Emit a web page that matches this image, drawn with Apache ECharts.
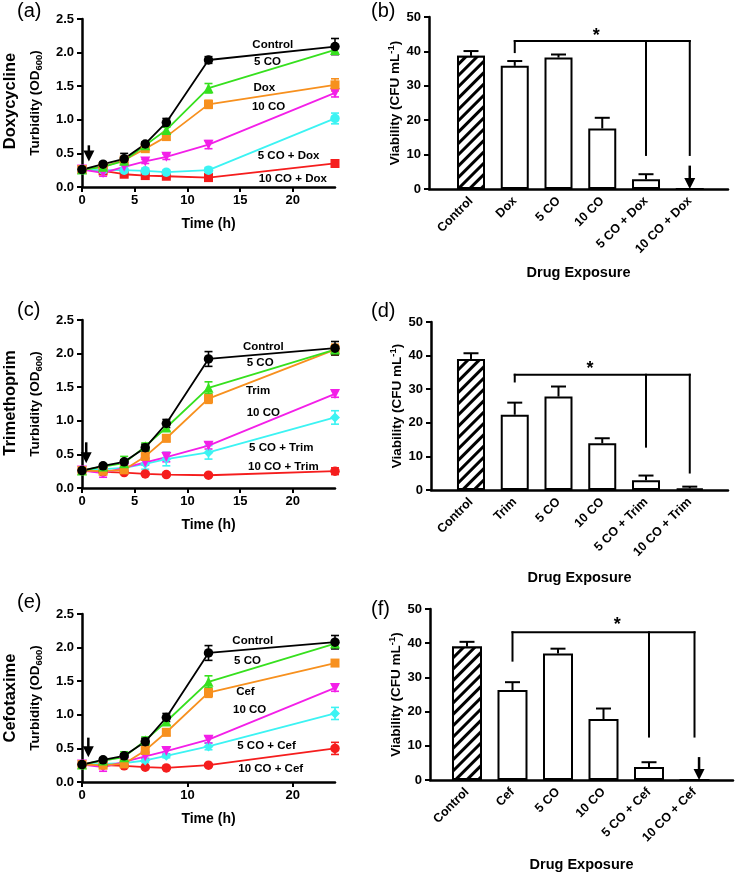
<!DOCTYPE html>
<html>
<head>
<meta charset="utf-8">
<script src="https://cdn.jsdelivr.net/npm/echarts@6/dist/echarts.min.js"></script>
<style>
html, body { margin: 0; padding: 0; background: #fff; }
#chart { width: 735px; height: 873px; }
</style>
</head>
<body>
<div id="chart"></div>
<script>
const FONT = '"Liberation Sans", Arial, Helvetica, sans-serif';

// sampling times (h) for the turbidity curves
const times = [0, 2, 4, 6, 8, 12, 24];
const lineColors = ['#000000', '#36e01e', '#f7901e', '#f31fe8', '#3cf3f3', '#f51d1d'];

// (a) Doxycycline turbidity
const aNames = ['Control', '5 CO', 'Dox', '10 CO', '5 CO + Dox', '10 CO + Dox'];
const aControl = [0.26, 0.34, 0.42, 0.64, 0.96, 1.89, 2.09];
const a5CO = [0.26, 0.30, 0.39, 0.62, 0.85, 1.47, 2.04];
const aDox = [0.26, 0.30, 0.40, 0.57, 0.75, 1.23, 1.52];
const a10CO = [0.26, 0.21, 0.30, 0.38, 0.45, 0.63, 1.40];
const a5CODox = [0.26, 0.25, 0.25, 0.24, 0.22, 0.25, 1.02];
const a10CODox = [0.26, 0.24, 0.19, 0.17, 0.16, 0.14, 0.35];
const aControlErr = [0.02, 0.03, 0.08, 0.03, 0.06, 0.05, 0.12];
const a5COErr = [0.02, 0.03, 0.05, 0.03, 0.04, 0.07, 0.05];
const aDoxErr = [0.02, 0.03, 0.04, 0.03, 0.05, 0.06, 0.09];
const a10COErr = [0.02, 0.05, 0.03, 0.03, 0.04, 0.06, 0.06];
const a5CODoxErr = [0.02, 0.03, 0.03, 0.04, 0.03, 0.04, 0.08];
const a10CODoxErr = [0.02, 0.03, 0.03, 0.02, 0.02, 0.02, 0.03];
const aLabelAt = [[18.1, 2.12], [17.6, 1.86], [17.3, 1.48], [17.7, 1.19], [19.6, 0.46], [20.0, 0.12]];

// (c) Trimethoprim turbidity
const cNames = ['Control', '5 CO', 'Trim', '10 CO', '5 CO + Trim', '10 CO + Trim'];
const cControl = [0.26, 0.33, 0.39, 0.60, 0.96, 1.92, 2.08];
const c5CO = [0.26, 0.32, 0.37, 0.62, 0.90, 1.49, 2.06];
const cTrim = [0.26, 0.25, 0.27, 0.47, 0.74, 1.33, 2.06];
const c10CO = [0.26, 0.22, 0.30, 0.38, 0.46, 0.63, 1.40];
const c5COTrim = [0.26, 0.28, 0.30, 0.36, 0.43, 0.53, 1.05];
const c10COTrim = [0.26, 0.24, 0.23, 0.21, 0.20, 0.19, 0.25];
const cControlErr = [0.02, 0.03, 0.03, 0.05, 0.06, 0.11, 0.10];
const c5COErr = [0.02, 0.04, 0.10, 0.05, 0.05, 0.09, 0.05];
const cTrimErr = [0.02, 0.03, 0.04, 0.05, 0.05, 0.07, 0.08];
const c10COErr = [0.02, 0.06, 0.03, 0.04, 0.07, 0.05, 0.05];
const c5COTrimErr = [0.02, 0.03, 0.04, 0.08, 0.10, 0.10, 0.10];
const c10COTrimErr = [0.02, 0.02, 0.02, 0.02, 0.02, 0.02, 0.05];
const cLabelAt = [[17.2, 2.10], [16.9, 1.86], [16.7, 1.44], [17.2, 1.12], [18.9, 0.60], [19.1, 0.31]];

// (e) Cefotaxime turbidity
const eNames = ['Control', '5 CO', 'Cef', '10 CO', '5 CO + Cef', '10 CO + Cef'];
const eControl = [0.26, 0.33, 0.39, 0.60, 0.96, 1.92, 2.08];
const e5CO = [0.26, 0.32, 0.37, 0.62, 0.90, 1.49, 2.06];
const eCef = [0.26, 0.25, 0.27, 0.47, 0.74, 1.33, 1.77];
const e10CO = [0.26, 0.22, 0.30, 0.38, 0.46, 0.63, 1.40];
const e5COCef = [0.26, 0.27, 0.28, 0.32, 0.39, 0.53, 1.02];
const e10COCef = [0.26, 0.25, 0.24, 0.22, 0.21, 0.25, 0.50];
const eControlErr = [0.02, 0.03, 0.03, 0.05, 0.06, 0.11, 0.10];
const e5COErr = [0.02, 0.04, 0.08, 0.05, 0.05, 0.09, 0.05];
const eCefErr = [0.02, 0.03, 0.04, 0.05, 0.05, 0.07, 0.04];
const e10COErr = [0.02, 0.06, 0.03, 0.03, 0.05, 0.05, 0.05];
const e5COCefErr = [0.02, 0.02, 0.02, 0.03, 0.03, 0.05, 0.09];
const e10COCefErr = [0.02, 0.02, 0.02, 0.02, 0.02, 0.02, 0.09];
const eLabelAt = [[16.2, 2.10], [15.7, 1.80], [15.5, 1.34], [15.9, 1.07], [17.5, 0.54], [17.9, 0.19]];

// (b) Doxycycline viability
const bCats = ['Control', 'Dox', '5 CO', '10 CO', '5 CO + Dox', '10 CO + Dox'];
const bMeans = [38.7, 35.8, 38.2, 17.6, 2.8, 0];
const bErr = [1.4, 1.4, 0.9, 3.1, 1.5, 0];
const bBracket = [[1, 39.8, 1, 43], [1, 43, 5, 43], [4, 43, 4, 9.9], [5, 43, 5, 9.9]];
const bArrow = [[5, 6.8, 0]];
const bStar = [[2.86, 44.6]];

// (d) Trimethoprim viability
const dCats = ['Control', 'Trim', '5 CO', '10 CO', '5 CO + Trim', '10 CO + Trim'];
const dMeans = [39.0, 22.4, 27.8, 13.9, 2.9, 0.5];
const dErr = [1.7, 3.6, 3.0, 1.5, 1.4, 0.5];
const dBracket = [[1, 32.3, 1, 34.3], [1, 34.3, 5, 34.3], [4, 34.3, 4, 12.9], [5, 34.3, 5, 5.2]];
const dArrow = [];
const dStar = [[2.72, 35.9]];

// (f) Cefotaxime viability
const fCats = ['Control', 'Cef', '5 CO', '10 CO', '5 CO + Cef', '10 CO + Cef'];
const fMeans = [39.0, 26.3, 37.0, 17.8, 3.8, 0];
const fErr = [1.4, 2.3, 1.4, 3.1, 1.4, 0];
const fBracket = [[1, 34.9, 1, 43.2], [1, 43.2, 5, 43.2], [4, 43.2, 4, 12.7], [5, 43.2, 5, 12.7]];
const fArrow = [[5.1, 6.7, 0]];
const fStar = [[3.3, 45.2]];

const chart = echarts.init(document.getElementById('chart'));

const boldText = { color: '#000', fontWeight: 'bold', fontFamily: FONT };

function textSeries(g, items, labels, size) {
  return {
    type: 'custom', xAxisIndex: g, yAxisIndex: g, silent: true, z: 6,
    data: items,
    renderItem: function (params, api) {
      const p = api.coord([api.value(0), api.value(1)]);
      return {
        type: 'text', x: p[0], y: p[1],
        style: {
          text: labels[params.dataIndex], fill: '#000',
          font: 'bold ' + size + 'px ' + FONT,
          textAlign: 'center', textVerticalAlign: 'middle'
        }
      };
    }
  };
}

function segSeries(g, segs) {
  return {
    type: 'custom', xAxisIndex: g, yAxisIndex: g, silent: true, z: 5,
    data: segs,
    renderItem: function (params, api) {
      const a = api.coord([api.value(0), api.value(1)]);
      const b = api.coord([api.value(2), api.value(3)]);
      return {
        type: 'line',
        shape: { x1: a[0], y1: a[1], x2: b[0], y2: b[1] },
        style: { stroke: '#000', lineWidth: 2, lineCap: 'square' }
      };
    }
  };
}

function arrowSeries(g, arrows) {
  return {
    type: 'custom', xAxisIndex: g, yAxisIndex: g, silent: true, z: 6,
    data: arrows,
    renderItem: function (params, api) {
      const top = api.coord([api.value(0), api.value(1)]);
      const tip = api.coord([api.value(0), api.value(2)]);
      const head = 11;
      return {
        type: 'group', children: [
          { type: 'line', shape: { x1: top[0], y1: top[1], x2: tip[0], y2: tip[1] - head + 1 },
            style: { stroke: '#000', lineWidth: 2.5 } },
          { type: 'polygon', shape: { points: [[tip[0], tip[1]], [tip[0] - 5.5, tip[1] - head], [tip[0] + 5.5, tip[1] - head]] },
            style: { fill: '#000' } }
        ]
      };
    }
  };
}

function lineSeries(g, means, errs, symbols) {
  const out = [];
  for (let i = means.length - 1; i >= 0; i--) {
    const col = lineColors[i];
    const sym = symbols[i];
    out.push({
      type: 'custom', xAxisIndex: g, yAxisIndex: g, silent: true, z: 2,
      data: times.map((t, k) => [t, means[i][k], errs[i][k]]),
      renderItem: function (params, api) {
        const x = api.value(0), y = api.value(1), e = api.value(2);
        const lo = api.coord([x, y - e]), hi = api.coord([x, y + e]);
        const w = 4;
        const st = { stroke: col, lineWidth: 1.6 };
        return {
          type: 'group', children: [
            { type: 'line', shape: { x1: lo[0], y1: lo[1], x2: hi[0], y2: hi[1] }, style: st },
            { type: 'line', shape: { x1: lo[0] - w, y1: lo[1], x2: lo[0] + w, y2: lo[1] }, style: st },
            { type: 'line', shape: { x1: hi[0] - w, y1: hi[1], x2: hi[0] + w, y2: hi[1] }, style: st }
          ]
        };
      }
    });
    out.push({
      type: 'line', xAxisIndex: g, yAxisIndex: g, z: 3,
      data: times.map((t, k) => [t, means[i][k]]),
      symbol: sym === 'down' ? 'triangle' : sym,
      symbolRotate: sym === 'down' ? 180 : 0,
      symbolSize: sym === 'rect' ? 9 : (sym === 'circle' ? 9.5 : 10),
      showAllSymbol: true,
      lineStyle: { color: col, width: 1.8 },
      itemStyle: { color: col, opacity: 1 }
    });
  }
  return out;
}

const hatch = {
  symbol: 'rect', symbolSize: 1, color: '#000', backgroundColor: '#fff',
  dashArrayX: [1, 0], dashArrayY: [3, 5], rotation: -Math.PI / 4
};

function barSeries(g, means, errs, width) {
  return [{
    type: 'bar', xAxisIndex: g, yAxisIndex: g, barWidth: width, z: 3,
    data: means.map((v, i) => i === 0 ? { value: [i, v], itemStyle: { decal: hatch } } : [i, v]),
    itemStyle: { color: '#fff', borderColor: '#000', borderWidth: 2 }
  }, {
    type: 'custom', xAxisIndex: g, yAxisIndex: g, silent: true, z: 4,
    data: means.map((v, i) => [i, v, errs[i]]),
    renderItem: function (params, api) {
      const e = api.value(2);
      if (!e) return null;
      const base = api.coord([api.value(0), api.value(1)]);
      const hi = api.coord([api.value(0), api.value(1) + e]);
      const st = { stroke: '#000', lineWidth: 2 };
      return {
        type: 'group', children: [
          { type: 'line', shape: { x1: base[0], y1: base[1], x2: hi[0], y2: hi[1] }, style: st },
          { type: 'line', shape: { x1: hi[0] - 7.5, y1: hi[1], x2: hi[0] + 7.5, y2: hi[1] }, style: st }
        ]
      };
    }
  }];
}

const axisLineStyle = { show: true, onZero: false, lineStyle: { color: '#000', width: 2.5 } };
const tickStyle = { show: true, length: 5, lineStyle: { color: '#000', width: 2 } };

function lineXAxis(g, ticks) {
  return {
    gridIndex: g, type: 'value', min: 0, max: 24,
    axisLine: axisLineStyle,
    axisTick: Object.assign({ customValues: ticks }, tickStyle),
    axisLabel: Object.assign({ customValues: ticks, fontSize: 13, margin: 7 }, boldText),
    splitLine: { show: false },
    name: 'Time (h)', nameLocation: 'middle', nameGap: 30,
    nameTextStyle: Object.assign({ fontSize: 14 }, boldText)
  };
}

function lineYAxis(g) {
  return {
    gridIndex: g, type: 'value', min: 0, max: 2.5, interval: 0.5,
    axisLine: axisLineStyle, axisTick: tickStyle,
    axisLabel: Object.assign({ fontSize: 13, margin: 8, formatter: v => v.toFixed(1) }, boldText),
    splitLine: { show: false },
    name: '{a|Turbidity (OD}{s|600}{a|)}', nameLocation: 'middle', nameGap: 38, nameRotate: 90,
    nameTextStyle: {
      rich: {
        a: Object.assign({ fontSize: 13.5, lineHeight: 18 }, boldText),
        s: Object.assign({ fontSize: 9.5, lineHeight: 9, verticalAlign: 'bottom' }, boldText)
      }
    }
  };
}

function barXAxis(g, cats, min, max, gap) {
  return {
    gridIndex: g, type: 'value', min: min, max: max,
    axisLine: axisLineStyle, axisTick: { show: false },
    axisLabel: Object.assign({
      customValues: [0, 1, 2, 3, 4, 5], rotate: 45, fontSize: 12.5, margin: 10,
      formatter: v => cats[Math.round(v)]
    }, boldText),
    splitLine: { show: false },
    name: 'Drug Exposure', nameLocation: 'middle', nameGap: gap,
    nameTextStyle: Object.assign({ fontSize: 14.5 }, boldText)
  };
}

function barYAxis(g) {
  return {
    gridIndex: g, type: 'value', min: 0, max: 50, interval: 10,
    axisLine: axisLineStyle, axisTick: tickStyle,
    axisLabel: Object.assign({ fontSize: 13, margin: 8 }, boldText),
    splitLine: { show: false },
    name: '{a|Viability (CFU mL}{p|-1}{a|)}', nameLocation: 'middle', nameGap: 24, nameRotate: 90,
    nameTextStyle: {
      rich: {
        a: Object.assign({ fontSize: 13.5, lineHeight: 18 }, boldText),
        p: Object.assign({ fontSize: 9.5, lineHeight: 9, verticalAlign: 'top' }, boldText)
      }
    }
  };
}

function panelLabel(text, x, y) {
  return { type: 'text', x: x, y: y, style: { text: text, font: '20px ' + FONT, fill: '#000' } };
}

function drugLabel(text, y) {
  return {
    type: 'text', x: 10, y: y, rotation: Math.PI / 2,
    style: { text: text, font: 'bold 16.5px ' + FONT, fill: '#000', textAlign: 'center', textVerticalAlign: 'middle' }
  };
}

const symA = ['circle', 'triangle', 'rect', 'down', 'circle', 'rect'];
const symCE = ['circle', 'triangle', 'rect', 'down', 'diamond', 'circle'];

const option = {
  animation: false,
  backgroundColor: '#fff',
  grid: [
    { left: 82, top: 19, width: 253, height: 168 },
    { left: 429, top: 17, width: 299, height: 172 },
    { left: 82, top: 320, width: 253, height: 168 },
    { left: 431, top: 322, width: 297, height: 168 },
    { left: 82, top: 614, width: 253, height: 168 },
    { left: 430, top: 609, width: 303, height: 172 }
  ],
  xAxis: [
    lineXAxis(0, [0, 5, 10, 15, 20]),
    barXAxis(1, bCats, -0.96, 5.874, 76),
    lineXAxis(2, [0, 5, 10, 15, 20]),
    barXAxis(3, dCats, -0.914, 5.874, 80),
    lineXAxis(4, [0, 10, 20]),
    barXAxis(5, fCats, -0.813, 5.846, 77)
  ],
  yAxis: [lineYAxis(0), barYAxis(1), lineYAxis(2), barYAxis(3), lineYAxis(4), barYAxis(5)],
  graphic: [
    panelLabel('(a)', 17, 1),
    panelLabel('(b)', 371, 1),
    panelLabel('(c)', 17, 300),
    panelLabel('(d)', 371, 301),
    panelLabel('(e)', 17, 592),
    panelLabel('(f)', 371, 599),
    drugLabel('Doxycycline', 101),
    drugLabel('Trimethoprim', 403),
    drugLabel('Cefotaxime', 698)
  ],
  series: [].concat(
    lineSeries(0, [aControl, a5CO, aDox, a10CO, a5CODox, a10CODox],
      [aControlErr, a5COErr, aDoxErr, a10COErr, a5CODoxErr, a10CODoxErr], symA),
    textSeries(0, aLabelAt, aNames, 11.5),
    arrowSeries(0, [[0.65, 0.62, 0.38]]),
    lineSeries(2, [cControl, c5CO, cTrim, c10CO, c5COTrim, c10COTrim],
      [cControlErr, c5COErr, cTrimErr, c10COErr, c5COTrimErr, c10COTrimErr], symCE),
    textSeries(2, cLabelAt, cNames, 11.5),
    arrowSeries(2, [[0.4, 0.68, 0.37]]),
    lineSeries(4, [eControl, e5CO, eCef, e10CO, e5COCef, e10COCef],
      [eControlErr, e5COErr, eCefErr, e10COErr, e5COCefErr, e10COCefErr], symCE),
    textSeries(4, eLabelAt, eNames, 11.5),
    arrowSeries(4, [[0.6, 0.66, 0.37]]),
    barSeries(1, bMeans, bErr, 28),
    segSeries(1, bBracket),
    arrowSeries(1, bArrow),
    textSeries(1, bStar, ['*'], 18),
    barSeries(3, dMeans, dErr, 28),
    segSeries(3, dBracket),
    arrowSeries(3, dArrow),
    textSeries(3, dStar, ['*'], 18),
    barSeries(5, fMeans, fErr, 30),
    segSeries(5, fBracket),
    arrowSeries(5, fArrow),
    textSeries(5, fStar, ['*'], 18)
  )
};

chart.setOption(option);
</script>
</body>
</html>
